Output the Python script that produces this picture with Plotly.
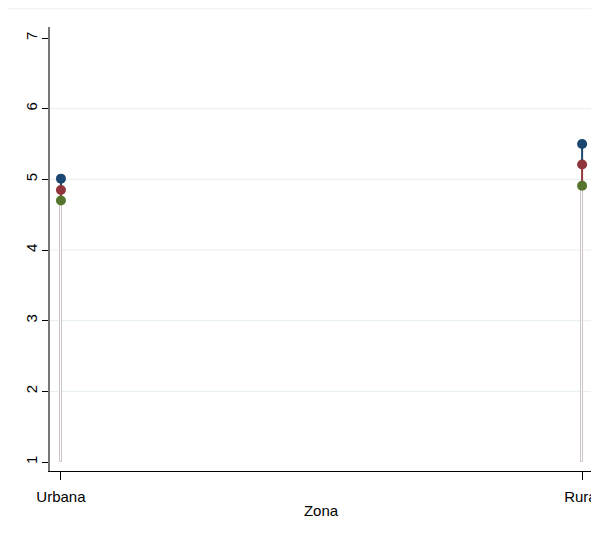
import plotly.graph_objects as go

zonas = ["Urbana", "Rural"]
serie_azul = [5.01, 5.50]
serie_roja = [4.85, 5.21]
serie_verde = [4.70, 4.91]
base = 1
y_ticks = [1, 2, 3, 4, 5, 6, 7]
grid_vals = [2, 3, 4, 5, 6]

AZUL = "#1a476f"
ROJO = "#90353b"
VERDE = "#55752f"

fig = go.Figure()

# thin bars from base to lowest value
fig.add_trace(go.Bar(
    x=zonas, y=[v - base for v in serie_verde], base=base, width=0.005,
    marker=dict(color="white", line=dict(color="#cbc3c7", width=1)),
    showlegend=False, hoverinfo="skip"))

def segs(lo, hi):
    xs, ys = [], []
    for z, a, b in zip(zonas, lo, hi):
        xs += [z, z, None]
        ys += [a, b, None]
    return xs, ys

xs, ys = segs(serie_roja, serie_azul)
fig.add_trace(go.Scatter(x=xs, y=ys, mode="lines", line=dict(color=AZUL, width=2),
                         showlegend=False, hoverinfo="skip"))
xs, ys = segs(serie_verde, serie_roja)
fig.add_trace(go.Scatter(x=xs, y=ys, mode="lines", line=dict(color=ROJO, width=2),
                         showlegend=False, hoverinfo="skip"))

for vals, col in [(serie_azul, AZUL), (serie_roja, ROJO), (serie_verde, VERDE)]:
    fig.add_trace(go.Scatter(x=zonas, y=vals, mode="markers",
                             marker=dict(color=col, size=10, line=dict(width=0)),
                             showlegend=False))

shapes = []
for g in grid_vals:
    shapes.append(dict(type="line", xref="paper", yref="y", x0=0, x1=1, y0=g, y1=g,
                       line=dict(color="#e6eef0", width=1), layer="below"))
shapes.append(dict(type="line", xref="paper", yref="paper", x0=-0.08, x1=1.02,
                   y0=1.041, y1=1.041, line=dict(color="#eeeeee", width=1)))
fig.update_layout(shapes=shapes)

fig.update_layout(
    width=591, height=520,
    margin=dict(l=42, r=7, t=19, b=57, autoexpand=False),
    paper_bgcolor="white", plot_bgcolor="white",
    font=dict(family="Liberation Sans, Arial, sans-serif", size=15, color="#000"),
    xaxis=dict(type="category", range=[-0.021, 1.019], showgrid=False,
               showline=True, linecolor="#000", linewidth=1,
               ticks="outside", ticklen=8, tickcolor="#000",
               tickfont=dict(size=15), ticklabelstandoff=4, automargin=False,
               ticklabeloverflow="allow",
               title=dict(text="Zona", standoff=1, font=dict(size=15)), zeroline=False),
    yaxis=dict(range=[0.873, 7.156], tickvals=y_ticks, showgrid=False,
               showline=True, linecolor="#777", linewidth=2,
               ticks="outside", ticklen=6, tickcolor="#000", tickangle=-90,
               tickfont=dict(size=15), ticklabelstandoff=-1, automargin=False,
               zeroline=False),
    bargap=0,
)

fig.write_html("out.html")
